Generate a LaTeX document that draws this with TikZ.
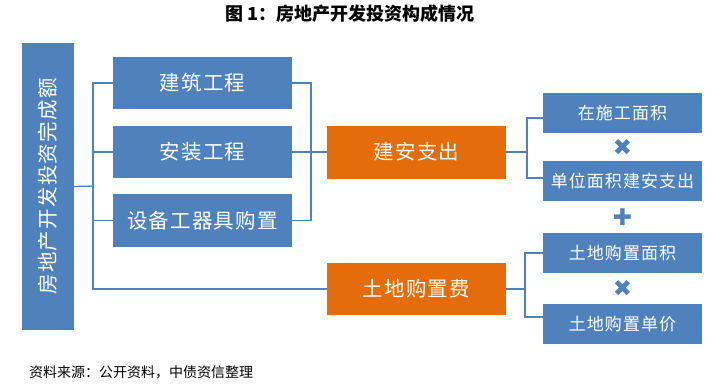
\documentclass[tikz,border=0pt]{standalone}
\usepackage{fontspec}
\setmainfont{Noto Sans CJK SC}
\newfontfamily\symfont{DejaVu Sans}
\newfontfamily\boxfont{Noto Sans CJK SC}[LetterSpace=6]
\usetikzlibrary{calc,positioning}
\definecolor{boxblue}{HTML}{4F81BD}
\definecolor{boxorange}{HTML}{E46C0A}

\begin{document}
\begin{tikzpicture}[
    x=1pt, y=-1pt,
    every node/.style={inner sep=0pt},
    blk/.style={rectangle, fill=boxblue, text=white, font=\boxfont\fontsize{20.5}{24}\selectfont},
    item/.style={blk, minimum width=179pt, minimum height=52pt},
    cost/.style={blk, fill=boxorange, minimum width=179pt, minimum height=53pt},
    fac/.style={blk, minimum width=159pt, minimum height=40pt, font=\boxfont\fontsize{17}{21}\selectfont},
    op/.style={text=boxblue, font=\symfont\fontsize{23}{23}\selectfont},
    ln/.style={draw=boxblue, line width=1.3pt},
  ]
  \useasboundingbox (0,0) rectangle (719,384);
  \node[font=\bfseries\fontsize{18}{21}\selectfont] (title) at (350,14) {图 1：房地产开发投资构成情况};
  % left total
  \node[blk, minimum width=52pt, minimum height=287pt] (tot) at (48,186.5)
    {\rotatebox{90}{\fontsize{20.5}{24}\selectfont 房地产开发投资完成额}};
  \node[item] (b1) at (202.5,83) {建筑工程};
  \node[item] (b2) at (202.5,152) {安装工程};
  \node[item, minimum height=53pt] (b3) at (202.5,220.5) {设备工器具购置};
  \node[cost] (o1) at (416.5,152) {建安支出};
  \node[cost, minimum height=52pt] (o2) at (416.5,289) {土地购置费};
  \node[fac] (r1) at (622.5,113) {在施工面积};
  \node[fac] (r2) at (622.5,181) {单位面积建安支出};
  \node[fac] (r3) at (622.5,253) {土地购置面积};
  \node[fac] (r4) at (622.5,324) {土地购置单价};
  \node[op] (m1) at ($(r1)!0.5!(r2)$) {✖};
  \node[op] (pl) at ($(r2)!0.5!(r3)$) {✚};
  \node[op] (m2) at ($(r3)!0.5!(r4)$) {✖};
  \node[anchor=west, font=\fontsize{14}{16}\selectfont] (src) at (29,372) {资料来源：公开资料，中债资信整理};
  % brackets
  \coordinate (lj) at (93,186);
  \coordinate (mj) at (311,152);
  \coordinate (rj1) at (527,152);
  \coordinate (rj2) at (525,289);
  \draw[ln] (tot.east) -- (lj);
  \draw[ln] (b1.west) -| (lj) |- (o2.west);
  \draw[ln] (b2.west) -- (b2.west -| lj);
  \draw[ln] (b3.west) -- (b3.west -| lj);
  \draw[ln] (b1.east) -| (mj) |- (b3.east);
  \draw[ln] (b2.east) -- (o1.west);
  \draw[ln] (o1.east) -- (rj1);
  \draw[ln] ([yshift=-5pt]r1.west) -| (rj1) |- ([yshift=3pt]r2.west);
  \draw[ln] (o2.east) -- (rj2);
  \draw[ln] (r3.west) -| (rj2) |- ([yshift=7pt]r4.west);
\end{tikzpicture}
\end{document}
